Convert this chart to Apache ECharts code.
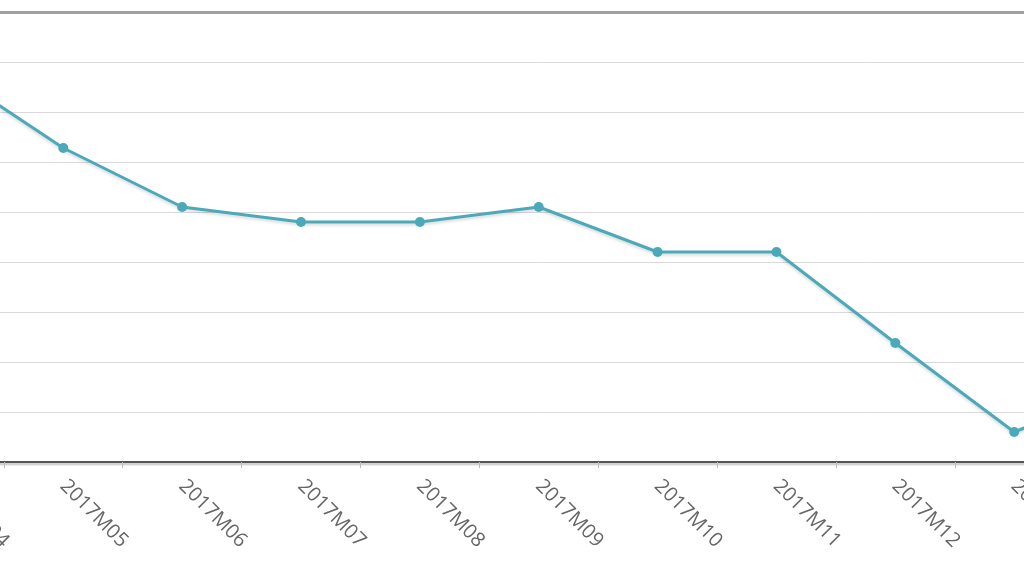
<!DOCTYPE html>
<html>
<head>
<meta charset="utf-8">
<script src="https://cdn.jsdelivr.net/npm/echarts@6/dist/echarts.min.js"></script>
<style>
html,body{margin:0;padding:0;background:#fff;overflow:hidden;width:1024px;height:576px;}
#chart{position:absolute;left:-115px;top:0;width:1318px;height:576px;}
</style>
</head>
<body>
<div id="chart"></div>
<script>
const categories = ['2017M04','2017M05','2017M06','2017M07','2017M08','2017M09','2017M10','2017M11','2017M12','2018M01','2018M02'];
const values = [7.86, 6.28, 5.1, 4.8, 4.8, 5.1, 4.2, 4.2, 2.38, 0.6, 1.55];
const yMin = 0, yMax = 9, yStep = 1;

const chart = echarts.init(document.getElementById('chart'), null, {renderer:'canvas'});
chart.setOption({
  animation: false,
  backgroundColor: '#ffffff',
  grid: {left: 0, right: 0, top: 12, bottom: 114, containLabel: false},
  xAxis: [{
    type: 'category',
    data: categories,
    boundaryGap: true,
    axisLine: {show: true, lineStyle: {color: '#555', width: 2, shadowColor: 'rgba(0,0,0,0.25)', shadowBlur: 2, shadowOffsetY: 2}},
    axisTick: {show: true, length: 6, lineStyle: {color: '#bbb', width: 1}},
    axisLabel: {rotate: -45, color: '#666', fontSize: 20, fontFamily: 'Open Sans', margin: 21, interval: 0},
    splitLine: {show: false}
  }, {
    type: 'category',
    data: categories,
    position: 'top',
    axisLine: {show: true, lineStyle: {color: '#a0a0a0', width: 3}},
    axisTick: {show: false},
    axisLabel: {show: false},
    splitLine: {show: false}
  }],
  yAxis: {
    type: 'value',
    min: yMin, max: yMax, interval: yStep,
    axisLine: {show: false},
    axisTick: {show: false},
    axisLabel: {show: false},
    splitLine: {show: true, lineStyle: {color: '#d9d9d9', width: 1}}
  },
  series: [{
    type: 'line',
    data: values,
    xAxisIndex: 0,
    symbol: 'circle',
    symbolSize: 10,
    showAllSymbol: true,
    lineStyle: {color: '#4aaab9', width: 3, shadowColor: 'rgba(0,0,0,0.15)', shadowBlur: 3, shadowOffsetY: 2},
    itemStyle: {color: '#4aaab9'}
  }]
});
</script>
</body>
</html>
